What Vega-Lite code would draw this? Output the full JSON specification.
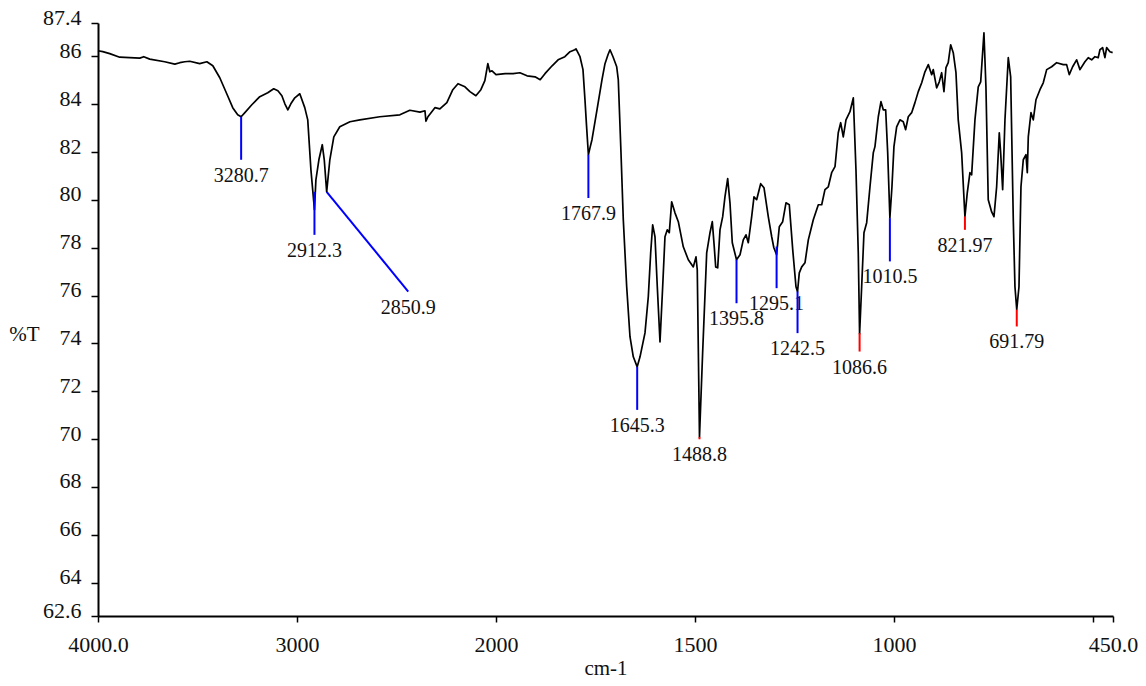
{
  "$schema": "https://vega.github.io/schema/vega-lite/v6.json",
  "width": 1015,
  "height": 593,
  "autosize": "none",
  "padding": {"left": 98, "top": 23, "right": 33, "bottom": 70},
  "background": "white",
  "config": {
    "view": {"stroke": null},
    "axis": {
      "grid": false,
      "domainColor": "#000",
      "domainWidth": 2,
      "tickColor": "#000",
      "tickWidth": 1.5,
      "labelFont": "'Liberation Serif', 'Times New Roman', Times, serif",
      "labelFontSize": 22,
      "labelColor": "#111",
      "titleFont": "'Liberation Serif', 'Times New Roman', Times, serif",
      "titleFontSize": 21,
      "titleFontWeight": "normal",
      "titleColor": "#111",
      "labelOverlap": false,
      "labelFlush": false,
      "labelBound": false
    }
  },
  "datasets": {
    "spectrum": [
      {"wavenumber": 4000, "T": 86.24}, {"wavenumber": 3976, "T": 86.20}, {"wavenumber": 3941, "T": 86.12},
      {"wavenumber": 3891, "T": 85.97}, {"wavenumber": 3841, "T": 85.95}, {"wavenumber": 3790, "T": 85.93},
      {"wavenumber": 3770, "T": 85.99}, {"wavenumber": 3740, "T": 85.89}, {"wavenumber": 3665, "T": 85.78},
      {"wavenumber": 3614, "T": 85.68}, {"wavenumber": 3589, "T": 85.74}, {"wavenumber": 3564, "T": 85.78},
      {"wavenumber": 3539, "T": 85.80}, {"wavenumber": 3489, "T": 85.70}, {"wavenumber": 3453, "T": 85.78},
      {"wavenumber": 3423, "T": 85.61}, {"wavenumber": 3388, "T": 85.11}, {"wavenumber": 3353, "T": 84.44},
      {"wavenumber": 3323, "T": 83.86}, {"wavenumber": 3298, "T": 83.56}, {"wavenumber": 3280.7, "T": 83.48},
      {"wavenumber": 3262, "T": 83.65}, {"wavenumber": 3227, "T": 83.98}, {"wavenumber": 3187, "T": 84.32},
      {"wavenumber": 3147, "T": 84.48}, {"wavenumber": 3117, "T": 84.65}, {"wavenumber": 3096, "T": 84.57},
      {"wavenumber": 3076, "T": 84.36}, {"wavenumber": 3061, "T": 84.02}, {"wavenumber": 3046, "T": 83.77},
      {"wavenumber": 3031, "T": 84.02}, {"wavenumber": 3011, "T": 84.27}, {"wavenumber": 2986, "T": 84.44},
      {"wavenumber": 2961, "T": 83.86}, {"wavenumber": 2946, "T": 83.35}, {"wavenumber": 2930, "T": 81.26},
      {"wavenumber": 2912.3, "T": 79.59}, {"wavenumber": 2905, "T": 80.84}, {"wavenumber": 2890, "T": 81.68},
      {"wavenumber": 2873, "T": 82.31}, {"wavenumber": 2863, "T": 81.68}, {"wavenumber": 2850.9, "T": 80.34},
      {"wavenumber": 2835, "T": 81.68}, {"wavenumber": 2815, "T": 82.64}, {"wavenumber": 2785, "T": 83.06},
      {"wavenumber": 2734, "T": 83.27}, {"wavenumber": 2684, "T": 83.35}, {"wavenumber": 2584, "T": 83.48},
      {"wavenumber": 2483, "T": 83.56}, {"wavenumber": 2433, "T": 83.75}, {"wavenumber": 2382, "T": 83.67},
      {"wavenumber": 2357, "T": 83.73}, {"wavenumber": 2352, "T": 83.29}, {"wavenumber": 2342, "T": 83.48},
      {"wavenumber": 2307, "T": 83.86}, {"wavenumber": 2282, "T": 83.81}, {"wavenumber": 2247, "T": 84.07},
      {"wavenumber": 2217, "T": 84.61}, {"wavenumber": 2191, "T": 84.86}, {"wavenumber": 2156, "T": 84.73},
      {"wavenumber": 2131, "T": 84.53}, {"wavenumber": 2101, "T": 84.36}, {"wavenumber": 2076, "T": 84.61},
      {"wavenumber": 2056, "T": 84.99}, {"wavenumber": 2041, "T": 85.70}, {"wavenumber": 2031, "T": 85.36},
      {"wavenumber": 2020, "T": 85.40}, {"wavenumber": 2000, "T": 85.24}, {"wavenumber": 1977, "T": 85.28},
      {"wavenumber": 1957, "T": 85.28}, {"wavenumber": 1940, "T": 85.32}, {"wavenumber": 1922, "T": 85.19},
      {"wavenumber": 1902, "T": 85.15}, {"wavenumber": 1889, "T": 85.03}, {"wavenumber": 1877, "T": 85.28},
      {"wavenumber": 1859, "T": 85.61}, {"wavenumber": 1844, "T": 85.86}, {"wavenumber": 1827, "T": 85.99},
      {"wavenumber": 1814, "T": 86.20}, {"wavenumber": 1802, "T": 86.28}, {"wavenumber": 1799, "T": 86.32},
      {"wavenumber": 1789, "T": 85.99}, {"wavenumber": 1781.5, "T": 85.45}, {"wavenumber": 1776.5, "T": 84.19},
      {"wavenumber": 1772.7, "T": 83.14}, {"wavenumber": 1767.9, "T": 81.89}, {"wavenumber": 1763.9, "T": 82.18},
      {"wavenumber": 1758.9, "T": 82.52}, {"wavenumber": 1746.3, "T": 83.77}, {"wavenumber": 1733.7, "T": 85.03},
      {"wavenumber": 1726.2, "T": 85.70}, {"wavenumber": 1718.7, "T": 86.07}, {"wavenumber": 1713.6, "T": 86.28},
      {"wavenumber": 1706.1, "T": 85.99}, {"wavenumber": 1696.8, "T": 85.57}, {"wavenumber": 1692.8, "T": 85.03},
      {"wavenumber": 1686.0, "T": 81.97}, {"wavenumber": 1680.2, "T": 79.17}, {"wavenumber": 1671.7, "T": 76.37},
      {"wavenumber": 1663.4, "T": 74.28}, {"wavenumber": 1655.1, "T": 73.44}, {"wavenumber": 1645.3, "T": 73.02},
      {"wavenumber": 1638.2, "T": 73.44}, {"wavenumber": 1625.7, "T": 74.44}, {"wavenumber": 1617.4, "T": 75.95},
      {"wavenumber": 1611.4, "T": 77.79}, {"wavenumber": 1606.4, "T": 78.96}, {"wavenumber": 1600.6, "T": 78.46},
      {"wavenumber": 1594.8, "T": 76.37}, {"wavenumber": 1588.0, "T": 74.06}, {"wavenumber": 1581.3, "T": 76.37},
      {"wavenumber": 1575.5, "T": 78.46}, {"wavenumber": 1569.7, "T": 78.75}, {"wavenumber": 1564.7, "T": 78.63},
      {"wavenumber": 1558.7, "T": 79.92}, {"wavenumber": 1550.4, "T": 79.46}, {"wavenumber": 1542.0, "T": 79.09},
      {"wavenumber": 1529.5, "T": 78.04}, {"wavenumber": 1516.9, "T": 77.50}, {"wavenumber": 1504.3, "T": 77.20},
      {"wavenumber": 1497.6, "T": 77.62}, {"wavenumber": 1494.4, "T": 77.08}, {"wavenumber": 1488.8, "T": 70.09},
      {"wavenumber": 1480.9, "T": 73.61}, {"wavenumber": 1470.7, "T": 77.79}, {"wavenumber": 1462.4, "T": 78.63},
      {"wavenumber": 1456.6, "T": 79.09}, {"wavenumber": 1451.7, "T": 78.04}, {"wavenumber": 1448.1, "T": 77.20},
      {"wavenumber": 1443.1, "T": 77.16}, {"wavenumber": 1437.3, "T": 78.75}, {"wavenumber": 1430.5, "T": 79.30},
      {"wavenumber": 1424.8, "T": 80.13}, {"wavenumber": 1418.0, "T": 80.89}, {"wavenumber": 1412.2, "T": 79.88},
      {"wavenumber": 1406.4, "T": 78.21}, {"wavenumber": 1395.8, "T": 77.50}, {"wavenumber": 1387.0, "T": 77.71},
      {"wavenumber": 1378.8, "T": 78.33}, {"wavenumber": 1372.0, "T": 78.54}, {"wavenumber": 1366.2, "T": 78.21},
      {"wavenumber": 1357.7, "T": 79.30}, {"wavenumber": 1351.9, "T": 80.13}, {"wavenumber": 1345.2, "T": 80.01},
      {"wavenumber": 1335.1, "T": 80.68}, {"wavenumber": 1326.8, "T": 80.51}, {"wavenumber": 1316.0, "T": 79.30},
      {"wavenumber": 1307.4, "T": 78.46}, {"wavenumber": 1302.0, "T": 78.00}, {"wavenumber": 1295.1, "T": 77.71},
      {"wavenumber": 1288.3, "T": 78.88}, {"wavenumber": 1279.8, "T": 79.09}, {"wavenumber": 1271.5, "T": 79.88},
      {"wavenumber": 1263.2, "T": 79.80}, {"wavenumber": 1254.6, "T": 77.92}, {"wavenumber": 1246.4, "T": 76.37},
      {"wavenumber": 1242.5, "T": 76.16}, {"wavenumber": 1238.1, "T": 76.95}, {"wavenumber": 1232.0, "T": 77.20},
      {"wavenumber": 1223.8, "T": 77.37}, {"wavenumber": 1215.4, "T": 78.33}, {"wavenumber": 1202.9, "T": 79.17},
      {"wavenumber": 1190.3, "T": 79.80}, {"wavenumber": 1181.8, "T": 79.80}, {"wavenumber": 1173.6, "T": 80.43},
      {"wavenumber": 1165.2, "T": 80.55}, {"wavenumber": 1156.8, "T": 81.14}, {"wavenumber": 1148.4, "T": 81.39},
      {"wavenumber": 1140.2, "T": 82.81}, {"wavenumber": 1134.1, "T": 83.23}, {"wavenumber": 1127.6, "T": 82.64},
      {"wavenumber": 1120.8, "T": 83.35}, {"wavenumber": 1110.8, "T": 83.69}, {"wavenumber": 1102.4, "T": 84.27},
      {"wavenumber": 1095.7, "T": 81.26}, {"wavenumber": 1089.9, "T": 77.79}, {"wavenumber": 1086.6, "T": 74.40},
      {"wavenumber": 1081.4, "T": 76.37}, {"wavenumber": 1075.6, "T": 78.63}, {"wavenumber": 1068.8, "T": 79.05},
      {"wavenumber": 1060.5, "T": 80.55}, {"wavenumber": 1052.2, "T": 81.97}, {"wavenumber": 1048.0, "T": 82.23},
      {"wavenumber": 1039.6, "T": 83.48}, {"wavenumber": 1032.9, "T": 84.11}, {"wavenumber": 1027.1, "T": 83.77},
      {"wavenumber": 1021.1, "T": 83.77}, {"wavenumber": 1016.0, "T": 81.97}, {"wavenumber": 1010.5, "T": 79.25},
      {"wavenumber": 1005.3, "T": 80.55}, {"wavenumber": 1000.3, "T": 82.23}, {"wavenumber": 993.5, "T": 83.06},
      {"wavenumber": 985.2, "T": 83.35}, {"wavenumber": 976.9, "T": 83.27}, {"wavenumber": 970.9, "T": 82.94},
      {"wavenumber": 964.3, "T": 83.48}, {"wavenumber": 955.8, "T": 83.65}, {"wavenumber": 947.5, "T": 84.07},
      {"wavenumber": 939.2, "T": 84.53}, {"wavenumber": 930.6, "T": 84.90}, {"wavenumber": 922.4, "T": 85.36},
      {"wavenumber": 914.0, "T": 85.66}, {"wavenumber": 905.5, "T": 85.24}, {"wavenumber": 901.5, "T": 85.45},
      {"wavenumber": 893.0, "T": 84.69}, {"wavenumber": 886.4, "T": 84.94}, {"wavenumber": 880.4, "T": 85.32},
      {"wavenumber": 874.7, "T": 84.53}, {"wavenumber": 869.6, "T": 85.53}, {"wavenumber": 863.9, "T": 85.74},
      {"wavenumber": 857.8, "T": 86.49}, {"wavenumber": 851.3, "T": 86.16}, {"wavenumber": 844.5, "T": 85.32},
      {"wavenumber": 838.8, "T": 83.35}, {"wavenumber": 830.2, "T": 81.97}, {"wavenumber": 821.97, "T": 79.30},
      {"wavenumber": 816.1, "T": 80.30}, {"wavenumber": 809.4, "T": 81.14}, {"wavenumber": 805.1, "T": 81.05},
      {"wavenumber": 796.8, "T": 83.35}, {"wavenumber": 788.5, "T": 84.73}, {"wavenumber": 782.4, "T": 84.94},
      {"wavenumber": 774.2, "T": 86.99}, {"wavenumber": 769.2, "T": 84.73}, {"wavenumber": 763.4, "T": 80.01},
      {"wavenumber": 754.8, "T": 79.50}, {"wavenumber": 749.0, "T": 79.30}, {"wavenumber": 742.3, "T": 80.55},
      {"wavenumber": 735.7, "T": 82.81}, {"wavenumber": 732.2, "T": 81.97}, {"wavenumber": 727.2, "T": 80.43},
      {"wavenumber": 721.4, "T": 83.35}, {"wavenumber": 713.1, "T": 85.95}, {"wavenumber": 707.1, "T": 85.15},
      {"wavenumber": 700.5, "T": 79.17}, {"wavenumber": 696.3, "T": 76.37}, {"wavenumber": 691.79, "T": 75.41},
      {"wavenumber": 686.2, "T": 76.37}, {"wavenumber": 681.2, "T": 80.55}, {"wavenumber": 675.4, "T": 81.68},
      {"wavenumber": 668.6, "T": 81.89}, {"wavenumber": 665.3, "T": 81.14}, {"wavenumber": 662.8, "T": 82.64},
      {"wavenumber": 656.0, "T": 83.65}, {"wavenumber": 650.3, "T": 83.35}, {"wavenumber": 643.5, "T": 84.19},
      {"wavenumber": 633.5, "T": 84.61}, {"wavenumber": 625.2, "T": 84.90}, {"wavenumber": 616.6, "T": 85.45},
      {"wavenumber": 604.1, "T": 85.57}, {"wavenumber": 591.5, "T": 85.74}, {"wavenumber": 574.9, "T": 85.66},
      {"wavenumber": 566.5, "T": 85.66}, {"wavenumber": 559.9, "T": 85.24}, {"wavenumber": 551.4, "T": 85.57},
      {"wavenumber": 541.4, "T": 85.86}, {"wavenumber": 533.0, "T": 85.45}, {"wavenumber": 520.5, "T": 85.78},
      {"wavenumber": 512.2, "T": 85.95}, {"wavenumber": 503.6, "T": 85.86}, {"wavenumber": 495.4, "T": 85.99},
      {"wavenumber": 487.1, "T": 85.95}, {"wavenumber": 482.8, "T": 86.28}, {"wavenumber": 476.1, "T": 86.37},
      {"wavenumber": 470.3, "T": 85.95}, {"wavenumber": 466.0, "T": 86.37}, {"wavenumber": 457.7, "T": 86.20},
      {"wavenumber": 450.9, "T": 86.16}
    ],
    "peaks": [
      {"peak": "3280.7", "wavenumber": 3280.7, "T": 83.48, "wavenumber2": 3280.7, "T2": 81.68, "group": "blue"},
      {"peak": "2912.3", "wavenumber": 2912.3, "T": 80.34, "wavenumber2": 2912.3, "T2": 78.54, "group": "blue"},
      {"peak": "2850.9", "wavenumber": 2850.9, "T": 80.34, "wavenumber2": 2441, "T2": 76.17, "group": "blue"},
      {"peak": "1767.9", "wavenumber": 1767.9, "T": 81.89, "wavenumber2": 1767.9, "T2": 80.08, "group": "blue"},
      {"peak": "1645.3", "wavenumber": 1645.3, "T": 73.02, "wavenumber2": 1645.3, "T2": 71.22, "group": "blue"},
      {"peak": "1488.8", "wavenumber": 1488.8, "T": 70.09, "wavenumber2": 1488.8, "T2": 69.99, "group": "red"},
      {"peak": "1395.8", "wavenumber": 1395.8, "T": 77.50, "wavenumber2": 1395.8, "T2": 75.68, "group": "blue"},
      {"peak": "1295.1", "wavenumber": 1295.1, "T": 78.05, "wavenumber2": 1295.1, "T2": 76.31, "group": "blue"},
      {"peak": "1242.5", "wavenumber": 1242.5, "T": 76.17, "wavenumber2": 1242.5, "T2": 74.43, "group": "blue"},
      {"peak": "1086.6", "wavenumber": 1086.6, "T": 74.43, "wavenumber2": 1086.6, "T2": 73.66, "group": "red"},
      {"peak": "1010.5", "wavenumber": 1010.5, "T": 79.24, "wavenumber2": 1010.5, "T2": 77.43, "group": "blue"},
      {"peak": "821.97", "wavenumber": 821.97, "T": 79.31, "wavenumber2": 821.97, "T2": 78.75, "group": "red"},
      {"peak": "691.79", "wavenumber": 691.79, "T": 75.41, "wavenumber2": 691.79, "T2": 74.71, "group": "red"}
    ]
  },
  "layer": [
    {
      "data": {"name": "peaks"},
      "mark": {"type": "text", "font": "'Liberation Serif', 'Times New Roman', Times, serif", "fontSize": 20, "color": "#111", "align": "center", "baseline": "alphabetic", "dy": 22},
      "encoding": {
        "x": {"field": "wavenumber2", "type": "quantitative",
          "scale": {"domain": [4000, 2000, 450], "range": [0, 398, 1015], "zero": false, "nice": false},
          "axis": {"title": "cm-1", "values": [4000, 3000, 2000, 1500, 1000, 500, 450],
            "labelExpr": "datum.value == 4000 ? '4000.0' : datum.value == 450 ? '450.0' : datum.value == 500 ? '' : format(datum.value, 'd')",
            "tickSize": 6, "labelPadding": 12, "titleY": 58, "titleBaseline": "alphabetic"}},
        "y": {"field": "T2", "type": "quantitative",
          "scale": {"domain": [62.6, 87.4], "zero": false, "nice": false},
          "axis": {"title": "%T", "values": [62.6, 64, 66, 68, 70, 72, 74, 76, 78, 80, 82, 84, 86, 87.4],
            "labelExpr": "format(datum.value, '.1~f')",
            "tickSize": 7, "labelPadding": 10, "labelBaseline": "alphabetic", "labelOffset": 1,
            "titleAngle": 0, "titleX": -74, "titleY": 317, "titleAlign": "center", "titleBaseline": "alphabetic"}},
        "text": {"field": "peak", "type": "nominal"}
      }
    },
    {
      "data": {"name": "spectrum"},
      "mark": {"type": "line", "color": "#000", "strokeWidth": 1.7, "strokeJoin": "round"},
      "encoding": {
        "x": {"field": "wavenumber", "type": "quantitative",
          "scale": {"domain": [4000, 2000, 450], "range": [0, 398, 1015], "zero": false, "nice": false},
          "axis": {"title": "cm-1", "values": [4000, 3000, 2000, 1500, 1000, 500, 450],
            "labelExpr": "datum.value == 4000 ? '4000.0' : datum.value == 450 ? '450.0' : datum.value == 500 ? '' : format(datum.value, 'd')",
            "tickSize": 6, "labelPadding": 12, "titleY": 58, "titleBaseline": "alphabetic"}},
        "y": {"field": "T", "type": "quantitative",
          "scale": {"domain": [62.6, 87.4], "zero": false, "nice": false},
          "axis": {"title": "%T", "values": [62.6, 64, 66, 68, 70, 72, 74, 76, 78, 80, 82, 84, 86, 87.4],
            "labelExpr": "format(datum.value, '.1~f')",
            "tickSize": 7, "labelPadding": 10, "labelBaseline": "alphabetic", "labelOffset": 1,
            "titleAngle": 0, "titleX": -74, "titleY": 317, "titleAlign": "center", "titleBaseline": "alphabetic"}},
        "order": {"field": "wavenumber", "type": "quantitative", "sort": "descending"}
      }
    },
    {
      "data": {"name": "peaks"},
      "mark": {"type": "rule", "strokeWidth": 2},
      "encoding": {
        "x": {"field": "wavenumber", "type": "quantitative",
          "scale": {"domain": [4000, 2000, 450], "range": [0, 398, 1015], "zero": false, "nice": false},
          "axis": {"title": "cm-1", "values": [4000, 3000, 2000, 1500, 1000, 500, 450],
            "labelExpr": "datum.value == 4000 ? '4000.0' : datum.value == 450 ? '450.0' : datum.value == 500 ? '' : format(datum.value, 'd')",
            "tickSize": 6, "labelPadding": 12, "titleY": 58, "titleBaseline": "alphabetic"}},
        "y": {"field": "T", "type": "quantitative",
          "scale": {"domain": [62.6, 87.4], "zero": false, "nice": false},
          "axis": {"title": "%T", "values": [62.6, 64, 66, 68, 70, 72, 74, 76, 78, 80, 82, 84, 86, 87.4],
            "labelExpr": "format(datum.value, '.1~f')",
            "tickSize": 7, "labelPadding": 10, "labelBaseline": "alphabetic", "labelOffset": 1,
            "titleAngle": 0, "titleX": -74, "titleY": 317, "titleAlign": "center", "titleBaseline": "alphabetic"}},
        "x2": {"field": "wavenumber2"},
        "y2": {"field": "T2"},
        "color": {"field": "group", "type": "nominal", "scale": {"domain": ["blue", "red"], "range": ["#0000ff", "#ff0000"]}, "legend": null}
      }
    }
  ]
}
